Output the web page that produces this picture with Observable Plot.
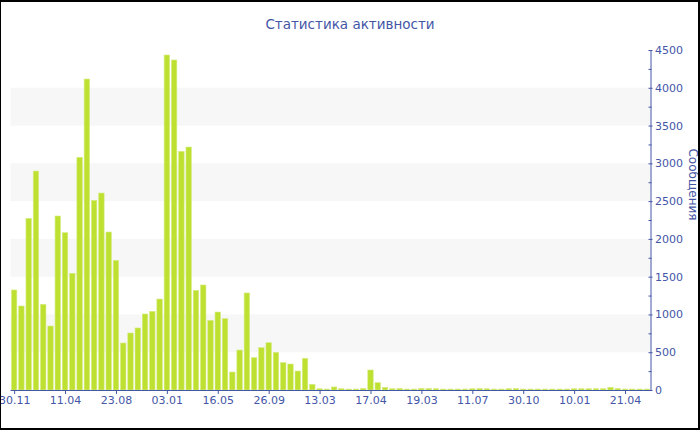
<!DOCTYPE html>
<html><head><meta charset="utf-8">
<script src="https://cdn.jsdelivr.net/npm/d3@7"></script>
<script src="https://cdn.jsdelivr.net/npm/@observablehq/plot@0.6"></script>
<style>
body{margin:0;background:#fff;}
#wrap{position:relative;width:700px;height:430px;overflow:hidden;font-family:"DejaVu Sans",Verdana,sans-serif;}
#border{position:absolute;left:0;top:0;width:700px;height:430px;box-sizing:border-box;border:2px solid #000;border-left-width:1px;pointer-events:none;}
#title{position:absolute;left:0;width:700px;top:16px;text-align:center;font-size:13.5px;color:#4456a6;}
#chart{position:absolute;left:0;top:0;}
</style></head><body>
<div id="wrap"><div id="chart"></div><div id="title">Статистика активности</div><div id="border"></div></div>
<script>
// messages per period (88 bars)
const messages = [
  1324, 1112, 2272, 2898, 1134, 847, 2303, 2082, 1544, 3080,
  4116, 2510, 2607, 2091, 1716, 622, 754, 821, 1006, 1041,
  1204, 4434, 4368, 3159, 3216, 1319, 1390, 922, 1032, 944,
  238, 529, 1284, 428, 560, 626, 499, 362, 344, 251,
  419, 75, 17, 13, 40, 17, 13, 13, 20, 265,
  97, 35, 17, 20, 13, 13, 20, 20, 17, 13,
  13, 13, 13, 17, 20, 17, 13, 13, 17, 20,
  13, 13, 13, 13, 13, 13, 13, 17, 17, 17,
  17, 17, 35, 20, 13, 13, 13, 13
];
const periods = messages.map((_, i) => i);
const tickIndex = [0, 7, 14, 21, 28, 35, 42, 49, 56, 63, 70, 77, 84];
const tickLabels = ["30.11", "11.04", "23.08", "03.01", "16.05", "26.09", "13.03", "17.04", "19.03", "11.07", "30.10", "10.01", "21.04"];
const yTicks = [0, 500, 1000, 1500, 2000, 2500, 3000, 3500, 4000, 4500];
const yMinorTicks = [250, 750, 1250, 1750, 2250, 2750, 3250, 3750, 4250];
const bandLows = [500, 1500, 2500, 3500];
const bandHighs = [1000, 2000, 3000, 4000];
const titleText = "Статистика активности";
const yLabel = "Сообщения";

const data = periods.map((p, i) => ({p, v: messages[i]}));
const bands = bandLows.map((lo, i) => ({lo, hi: bandHighs[i]}));
const blue = "#4456a6";

const chart = Plot.plot({
  width: 700, height: 430,
  marginLeft: 10.5, marginRight: 49.5, marginTop: 50, marginBottom: 40,
  style: {fontFamily: "'DejaVu Sans', Verdana, sans-serif", fontSize: "11px", background: "transparent", color: blue, overflow: "visible"},
  x: {type: "band", domain: periods, paddingInner: 0.25, paddingOuter: 0.125, round: false, axis: null},
  y: {domain: [0, 4500], axis: null},
  marks: [
    Plot.rect(bands, {y1: "lo", y2: "hi", fill: "#f7f7f7"}),
    Plot.barY(data, {x: "p", y: "v", fill: "#bde031", stroke: "#d6ec84", strokeWidth: 0.6}),
    Plot.frame({anchor: "bottom", stroke: blue}),
    Plot.frame({anchor: "right", stroke: blue}),
    Plot.axisX(tickIndex, {tickSize: 4, tickPadding: 2, label: null, tickFormat: d => tickLabels[tickIndex.indexOf(d)]}),
    Plot.axisY(yTicks, {anchor: "right", tickSize: 4, dx: -3, tickPadding: 3, tickFormat: d => String(d), label: null}),
    Plot.axisY(yMinorTicks, {anchor: "right", tickSize: 3, dx: -3, tickFormat: () => "", label: null}),
    Plot.text([yLabel], {frameAnchor: "right", dx: 42, rotate: 90, fill: blue, fontSize: 12})
  ]
});
document.getElementById("chart").appendChild(chart);
document.getElementById("title").textContent = titleText;
</script>
</body></html>
